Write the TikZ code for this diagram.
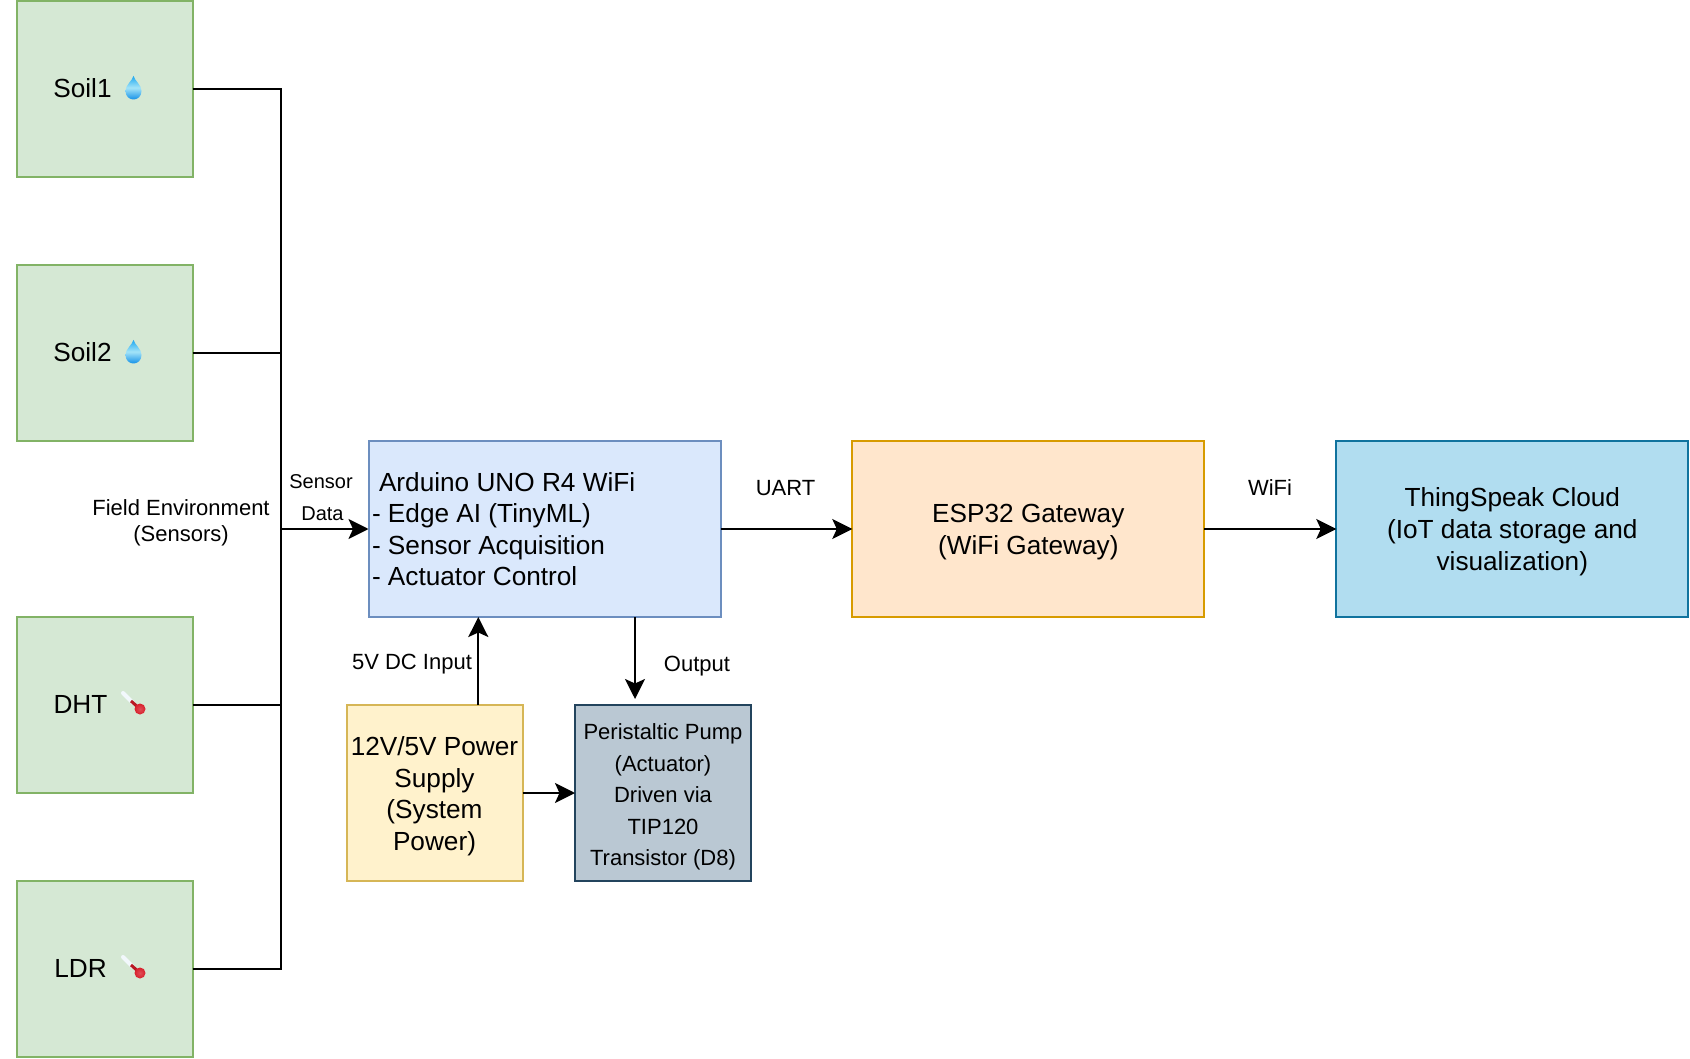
\documentclass[tikz,border=0pt]{standalone}
\usepackage{fontspec}
\setmainfont{Liberation Sans}
\usetikzlibrary{arrows.meta}
\definecolor{gfill}{HTML}{D5E8D4}\definecolor{gline}{HTML}{82B366}
\definecolor{bfill}{HTML}{DAE8FC}\definecolor{bline}{HTML}{6C8EBF}
\definecolor{ofill}{HTML}{FFE6CC}\definecolor{oline}{HTML}{D79B00}
\definecolor{cfill}{HTML}{B1DDF0}\definecolor{cline}{HTML}{10739E}
\definecolor{yfill}{HTML}{FFF2CC}\definecolor{yline}{HTML}{D6B656}
\definecolor{sfill}{HTML}{BAC8D3}\definecolor{sline}{HTML}{23445D}
\definecolor{droptop}{HTML}{1FA8F0}\definecolor{dropmid}{HTML}{A4E4F8}\definecolor{dropbot}{HTML}{1592E8}
\definecolor{bulb}{HTML}{D8202C}\definecolor{stem}{HTML}{B81822}\definecolor{glass}{HTML}{F2F8FC}
\tikzset{
  x=1pt,y=-1pt,
  block/.style={draw,rectangle,line width=2pt,inner sep=0pt,outer sep=0pt,align=center},
  small/.style={block,minimum width=176pt,minimum height=176pt},
  wide/.style={block,minimum width=352pt,minimum height=176pt},
  sensor/.style={small,fill=gfill,draw=gline,font=\fontsize{26.2}{31}\selectfont},
  lbl/.style={inner sep=0pt,align=center},
  wire/.style={line width=2.2pt,draw=black,line join=miter},
  arrow/.style={wire,-{Stealth[length=20pt,width=20pt,inset=4.5pt]}},
  drop/.pic={
    \shade[top color=droptop,bottom color=dropbot,middle color=dropmid]
      (0,-12) .. controls (1.5,-7) and (8,-3) .. (8,3)
      .. controls (8,8.5) and (4,11.5) .. (0,11.5)
      .. controls (-4,11.5) and (-8,8.5) .. (-8,3)
      .. controls (-8,-3) and (-1.5,-7) .. (0,-12) -- cycle;
  },
  thermo/.pic={
    \draw[glass,line width=4pt,line cap=round] (-17,-16) -- (-7,-6);
    \draw[stem,line width=3pt] (-9,-8) -- (0,0);
    \shade[inner color=bulb!80!white,outer color=bulb] (0,0) circle (5.5);
  }
}
\newcommand{\lowerby}[1]{\rule{0pt}{#1pt}}
\newcommand{\raiseone}{\rule[-2pt]{0pt}{2pt}}
\begin{document}
\begin{tikzpicture}
\useasboundingbox (0,0) rectangle (1690,1059);
\node[sensor] (soil1) at (104.5,89) {Soil1\raiseone\hspace{44pt}};
\node[sensor] (soil2) at (104.5,353) {Soil2\raiseone\hspace{44pt}};
\node[sensor] (dht) at (104.5,705) {DHT\raiseone\hspace{48pt}};
\node[sensor] (ldr) at (104.5,969) {LDR\raiseone\hspace{48pt}};
\pic at (133.5,88) {drop};
\pic at (133.5,352) {drop};
\pic at (140,709) {thermo};
\pic at (140,973) {thermo};

\node[wide,fill=bfill,draw=bline,font=\fontsize{26.2}{31.5}\selectfont,align=left] (uno) at (544.5,529)
  {\makebox[345pt][l]{\hspace{7pt}Arduino UNO R4 WiFi}\\\makebox[345pt][l]{- Edge AI (TinyML)}\\\makebox[345pt][l]{- Sensor Acquisition}\\\makebox[345pt][l]{- Actuator Control}};
\node[wide,fill=ofill,draw=oline,font=\fontsize{26.2}{32}\selectfont] (esp) at (1028.3,529) {\lowerby{24.5}ESP32 Gateway\\(WiFi Gateway)};
\node[wide,fill=cfill,draw=cline,font=\fontsize{26.2}{32}\selectfont] (cloud) at (1512.3,529) {\lowerby{24.3}ThingSpeak Cloud\\(IoT data storage and\\visualization)};
\node[small,fill=yfill,draw=yline,font=\fontsize{26.2}{31.5}\selectfont] (power) at (434.5,793) {\lowerby{25.3}12V/5V Power\\Supply\\(System\\Power)};
\node[small,fill=sfill,draw=sline,font=\fontsize{22}{31.5}\selectfont] (pump) at (663,793) {\lowerby{24}Peristaltic Pump\\(Actuator)\\Driven via\\TIP120\\Transistor (D8)};

\node[lbl,font=\fontsize{22}{26}\selectfont] (field) at (181,523) {Field Environment\\(Sensors)};
\node[lbl,font=\fontsize{20}{32}\selectfont] (sdata) at (321,498) {Sensor\\\hspace{3pt}Data};
\node[lbl,font=\fontsize{22}{26}\selectfont] (uart) at (785.5,488) {UART};
\node[lbl,font=\fontsize{22}{26}\selectfont] (wifi) at (1270,488) {WiFi};
\node[lbl,font=\fontsize{22}{26}\selectfont] (dcin) at (412,664) {5V DC Input};
\node[lbl,font=\fontsize{22}{26}\selectfont] (out) at (697,666) {Output};

\coordinate (bus) at (281,529);
\coordinate (upin) at (478.3,617);
\coordinate (upout) at (478.3,705);
\coordinate (dnout) at (635,617);
\coordinate (dnin) at (635,699);
\draw[wire] (soil1.east) -| (bus);
\draw[wire] (soil2.east) -| (bus);
\draw[wire] (dht.east) -| (bus);
\draw[wire] (ldr.east) -| (bus);
\draw[arrow] (bus) -- (uno.west);
\draw[arrow] (uno.east) -- (esp.west);
\draw[arrow] (esp.east) -- (cloud.west);
\draw[arrow] (upout) -- (upin);
\draw[arrow] (dnout) -- (dnin);
\draw[arrow] (power.east) -- (pump.west);
\end{tikzpicture}
\end{document}
